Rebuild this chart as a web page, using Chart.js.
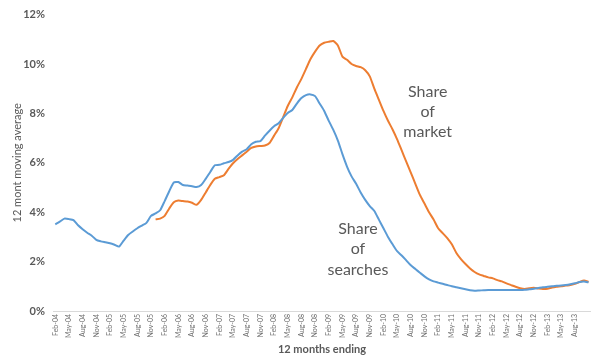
<!DOCTYPE html>
<html>
<head>
<meta charset="utf-8">
<script src="https://cdn.jsdelivr.net/npm/chart.js@4.4.1/dist/chart.umd.min.js"></script>
<style>
    html, body { margin: 0; padding: 0; background: #fff; }
    #wrap { width: 600px; height: 362px; }
</style>
</head>
<body>
<div id="wrap"><canvas id="chart"></canvas></div>
<script>
// Months Feb-04 .. Nov-13 (12 month rolling)
const monthNames = ['Jan', 'Feb', 'Mar', 'Apr', 'May', 'Jun', 'Jul', 'Aug', 'Sep', 'Oct', 'Nov', 'Dec'];
const firstMonth = { year: 2004, month: 1 };
const monthCount = 118;
const lastLabelled = 114; // Aug-13

// Share of searches, % (starts Feb-04)
const searchShare = [
    3.51, 3.62, 3.74, 3.72, 3.68, 3.47, 3.31, 3.17, 3.05, 2.88, 2.82, 2.78,
    2.74, 2.68, 2.61, 2.85, 3.08, 3.22, 3.35, 3.46, 3.57, 3.85, 3.95, 4.08,
    4.45, 4.85, 5.20, 5.22, 5.10, 5.08, 5.05, 5.02, 5.10, 5.35, 5.63, 5.90,
    5.92, 5.98, 6.03, 6.12, 6.30, 6.45, 6.55, 6.75, 6.85, 6.88, 7.10, 7.30,
    7.48, 7.60, 7.82, 8.02, 8.14, 8.40, 8.62, 8.74, 8.77, 8.70, 8.40, 8.10,
    7.70, 7.33, 6.90, 6.35, 5.85, 5.45, 5.15, 4.80, 4.50, 4.25, 4.05, 3.70,
    3.35, 3.00, 2.70, 2.42, 2.25, 2.05, 1.85, 1.70, 1.55, 1.40, 1.28, 1.20,
    1.15, 1.10, 1.05, 1.00, 0.96, 0.92, 0.88, 0.84, 0.82, 0.83, 0.84, 0.85,
    0.85, 0.85, 0.85, 0.85, 0.85, 0.85, 0.85, 0.86, 0.88, 0.90, 0.93, 0.96,
    0.98, 1.00, 1.02, 1.03, 1.05, 1.08, 1.12, 1.17, 1.19, 1.16
];

// Share of market, % (starts Dec-05)
const marketShare = [
    null, null, null, null, null, null, null, null, null, null, null, null,
    null, null, null, null, null, null, null, null, null, null, 3.71, 3.74,
    3.85, 4.15, 4.40, 4.47, 4.45, 4.43, 4.38, 4.30, 4.50, 4.80, 5.10, 5.35,
    5.42, 5.50, 5.75, 5.98, 6.15, 6.30, 6.45, 6.60, 6.66, 6.68, 6.70, 6.80,
    7.10, 7.40, 7.85, 8.30, 8.65, 9.05, 9.40, 9.80, 10.20, 10.50, 10.75, 10.86,
    10.90, 10.93, 10.75, 10.30, 10.17, 10.00, 9.92, 9.87, 9.75, 9.50, 9.00, 8.55,
    8.10, 7.70, 7.35, 6.95, 6.50, 6.05, 5.60, 5.15, 4.70, 4.35, 4.00, 3.70,
    3.35, 3.15, 2.95, 2.70, 2.35, 2.10, 1.90, 1.72, 1.58, 1.48, 1.42, 1.36,
    1.32, 1.25, 1.20, 1.12, 1.05, 0.98, 0.92, 0.89, 0.92, 0.94, 0.91, 0.89,
    0.90, 0.95, 0.98, 1.00, 1.03, 1.05, 1.10, 1.17, 1.23, 1.18
];

// In-chart labels: text lines, category index and value of each line
const marketLabel = ['Share', 'of', 'market'];
const marketLabelIndex = 81.7;
const marketLabelValues = [8.87, 8.06, 7.25];
const searchLabel = ['Share', 'of', 'searches'];
const searchLabelIndex = 66.4;
const searchLabelValues = [3.32, 2.51, 1.66];

const yTicks = [0, 2, 4, 6, 8, 10, 12];

// Build month labels like "Feb-04"
const labels = [];
for (let i = 0; i < monthCount; i++) {
    const m = (firstMonth.month + i) % 12;
    const y = firstMonth.year + Math.floor((firstMonth.month + i) / 12);
    labels.push(monthNames[m] + '-' + String(y % 100).padStart(2, '0'));
}

const textGray = '#595959';
const fontFamily = 'Lato, "Open Sans", sans-serif';

// Draws the "Share of ..." notes at data positions
const notesPlugin = {
    id: 'notes',
    afterDatasetsDraw(chart) {
        const { ctx, scales: { x, y } } = chart;
        const drawNote = (lines, index, values) => {
            ctx.save();
            ctx.font = '16px ' + fontFamily;
            ctx.fillStyle = textGray;
            ctx.textAlign = 'center';
            ctx.textBaseline = 'middle';
            lines.forEach((line, k) => {
                ctx.fillText(line, x.getPixelForValue(index), y.getPixelForValue(values[k]));
            });
            ctx.restore();
        };
        drawNote(marketLabel, marketLabelIndex, marketLabelValues);
        drawNote(searchLabel, searchLabelIndex, searchLabelValues);
    }
};

new Chart(document.getElementById('chart'), {
    type: 'line',
    data: {
        labels: labels,
        datasets: [
            {
                label: 'Share of searches',
                data: searchShare,
                borderColor: '#5B9BD5',
                borderWidth: 2,
                pointRadius: 0,
                tension: 0.2,
                fill: false
            },
            {
                label: 'Share of market',
                data: marketShare,
                borderColor: '#ED7D31',
                borderWidth: 2,
                pointRadius: 0,
                tension: 0.2,
                fill: false
            }
        ]
    },
    options: {
        responsive: true,
        maintainAspectRatio: false,
        animation: false,
        layout: {
            padding: { top: 9, right: 8, bottom: 0, left: 0 }
        },
        plugins: {
            legend: { display: false },
            tooltip: { enabled: false }
        },
        scales: {
            x: {
                offset: true,
                afterFit: scale => { scale.height = 51; },
                grid: { display: false, drawTicks: false },
                border: { display: true, color: '#d9d9d9', width: 1 },
                ticks: {
                    autoSkip: false,
                    maxRotation: 90,
                    minRotation: 90,
                    padding: 3,
                    color: '#6f6f6f',
                    font: { family: fontFamily, size: 7 },
                    callback: (value, index) =>
                        index % 3 === 0 && index <= lastLabelled ? labels[index] : ''
                },
                title: {
                    display: true,
                    text: '12 months ending',
                    color: textGray,
                    font: { family: fontFamily, size: 11, weight: 'bold' },
                    padding: { top: 4, bottom: 6 }
                }
            },
            y: {
                min: 0,
                max: 12,
                afterFit: scale => { scale.width = 53; },
                afterBuildTicks: scale => { scale.ticks = yTicks.map(v => ({ value: v })); },
                grid: { display: false, drawTicks: false },
                border: { display: false },
                ticks: {
                    padding: 8,
                    color: textGray,
                    font: { family: fontFamily, size: 11, weight: 'bold' },
                    callback: value => value + '%'
                },
                title: {
                    display: true,
                    text: '12 mont moving average',
                    color: textGray,
                    font: { family: fontFamily, size: 11 },
                    padding: { top: 11, bottom: 0 }
                }
            }
        }
    },
    plugins: [notesPlugin]
});
</script>
</body>
</html>
